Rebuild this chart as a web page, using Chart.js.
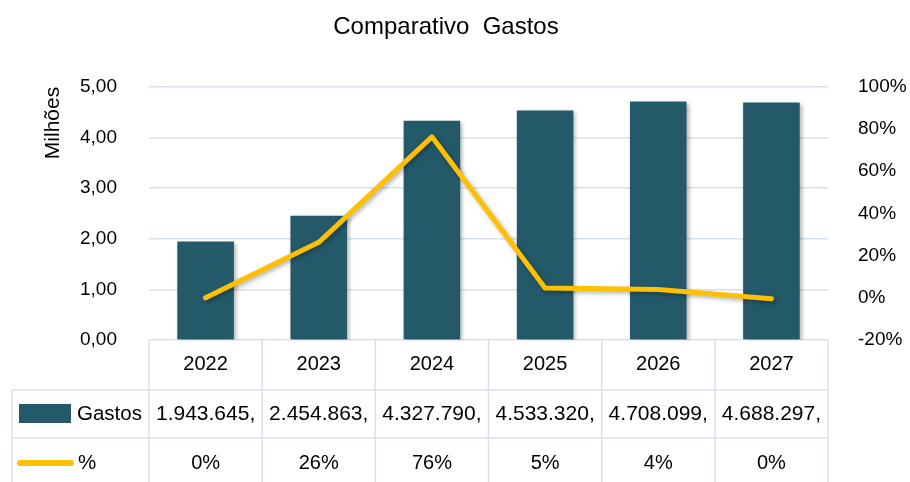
<!DOCTYPE html>
<html>
<head>
<meta charset="utf-8">
<script src="https://cdn.jsdelivr.net/npm/chart.js@4"></script>
<style>
    body { margin: 0; background: #fff; }
    #wrap { width: 910px; height: 482px; }
</style>
</head>
<body>
<div id="wrap"><canvas id="gastosChart"></canvas></div>
<script>
// dados
const anos = ['2022', '2023', '2024', '2025', '2026', '2027'];
const gastos = [1943645, 2454863, 4327790, 4533320, 4708099, 4688297];
const variacao = [0, 26.3, 76.3, 4.7, 3.9, -0.4];
const ticksMilhoes = [0, 1, 2, 3, 4, 5];
const ticksPct = [-20, 0, 20, 40, 60, 80, 100];

const corBarra = '#235969';
const corLinha = '#ffc000';
const corGrade = '#d7e1f0';
const fonte = 'Liberation Sans, Arial, sans-serif';

function formatarReais(v) {
    return String(v).replace(/\B(?=(\d{3})+(?!\d))/g, '.') + ',';
}

// sombra leve nas barras e na linha
const sombra = {
    id: 'sombra',
    beforeDatasetDraw(chart) {
        const ctx = chart.ctx;
        ctx.save();
        ctx.shadowColor = 'rgba(0,0,0,0.3)';
        ctx.shadowBlur = 4;
        ctx.shadowOffsetX = 2;
        ctx.shadowOffsetY = 2;
    },
    afterDatasetDraw(chart) {
        chart.ctx.restore();
    }
};

// titulo um pouco deslocado para a esquerda, como no original
const ajusteTitulo = {
    id: 'ajusteTitulo',
    afterLayout(chart) {
        if (chart.titleBlock) {
            chart.titleBlock.right = chart.width - 18;
            chart.titleBlock.width = chart.titleBlock.right - chart.titleBlock.left;
        }
    }
};

// tabela de dados abaixo do grafico
const tabela = {
    id: 'tabela',
    afterDraw(chart) {
        const ctx = chart.ctx;
        const x = chart.scales.x;
        const area = chart.chartArea;
        const larg = (area.right - area.left) / anos.length;
        const linha1 = 390, linha2 = 438, fim = chart.height;

        ctx.save();
        ctx.strokeStyle = corGrade;
        ctx.lineWidth = 1.5;
        ctx.beginPath();
        ctx.moveTo(12, linha1); ctx.lineTo(area.right, linha1);
        ctx.moveTo(12, linha2); ctx.lineTo(area.right, linha2);
        ctx.moveTo(12, linha1); ctx.lineTo(12, fim);
        for (let i = 0; i <= anos.length; i++) {
            const px = area.left + i * larg;
            ctx.moveTo(px, area.bottom); ctx.lineTo(px, fim);
        }
        ctx.stroke();

        // legenda
        ctx.fillStyle = corBarra;
        ctx.fillRect(19, 404, 52, 19);
        ctx.strokeStyle = corLinha;
        ctx.lineWidth = 6;
        ctx.lineCap = 'round';
        ctx.beginPath();
        ctx.moveTo(20, 463); ctx.lineTo(71, 463);
        ctx.stroke();

        ctx.font = '20.5px ' + fonte;
        ctx.fillStyle = '#000';
        ctx.textBaseline = 'middle';
        ctx.textAlign = 'left';
        ctx.fillText('Gastos', 77, 414);
        ctx.fillText('%', 78, 463);

        ctx.textAlign = 'center';
        gastos.forEach((v, i) => {
            const cx = x.getPixelForValue(i);
            ctx.font = '21px ' + fonte;
            ctx.fillText(formatarReais(v), cx, 414);
            ctx.font = '20px ' + fonte;
            ctx.fillText(Math.round(variacao[i]) + '%', cx, 463);
        });
        ctx.restore();
    }
};

new Chart(document.getElementById('gastosChart'), {
    data: {
        labels: anos,
        datasets: [{
            type: 'line',
            label: '%',
            data: variacao,
            yAxisID: 'y1',
            borderColor: corLinha,
            borderWidth: 5,
            borderCapStyle: 'round',
            borderJoinStyle: 'round',
            pointRadius: 0,
            tension: 0,
            order: 0
        }, {
            type: 'bar',
            label: 'Gastos',
            data: gastos.map(v => v / 1e6),
            yAxisID: 'y',
            backgroundColor: corBarra,
            barPercentage: 0.5,
            categoryPercentage: 1,
            order: 1
        }]
    },
    options: {
        responsive: true,
        maintainAspectRatio: false,
        animation: false,
        layout: { padding: 0 },
        plugins: {
            legend: { display: false },
            tooltip: { enabled: false },
            title: {
                display: true,
                text: 'Comparativo  Gastos',
                color: '#000',
                font: { family: fonte, size: 24, weight: 'normal' },
                padding: { top: 13, bottom: 45 }
            }
        },
        scales: {
            x: {
                grid: { display: false },
                border: { display: false },
                ticks: { color: '#000', font: { family: fonte, size: 20 }, padding: 4 },
                afterFit: s => { s.height = 142; }
            },
            y: {
                position: 'left',
                min: 0,
                max: 5,
                afterBuildTicks: s => { s.ticks = ticksMilhoes.map(v => ({ value: v })); },
                grid: { color: corGrade, lineWidth: 1.5, drawTicks: false },
                border: { display: false },
                ticks: {
                    color: '#000',
                    font: { family: fonte, size: 19 },
                    padding: 32,
                    callback: v => v.toFixed(2).replace('.', ',')
                },
                title: {
                    display: true,
                    text: 'Milhões',
                    align: 'end',
                    color: '#000',
                    font: { family: fonte, size: 21 },
                    padding: { top: 41 }
                },
                afterFit: s => { s.width = 149; }
            },
            y1: {
                position: 'right',
                min: -20,
                max: 100,
                afterBuildTicks: s => { s.ticks = ticksPct.map(v => ({ value: v })); },
                grid: { display: false },
                border: { display: false },
                ticks: {
                    color: '#000',
                    font: { family: fonte, size: 19 },
                    padding: 22,
                    callback: v => v + '%'
                },
                afterFit: s => { s.width = 82; }
            }
        }
    },
    plugins: [sombra, ajusteTitulo, tabela]
});
</script>
</body>
</html>
